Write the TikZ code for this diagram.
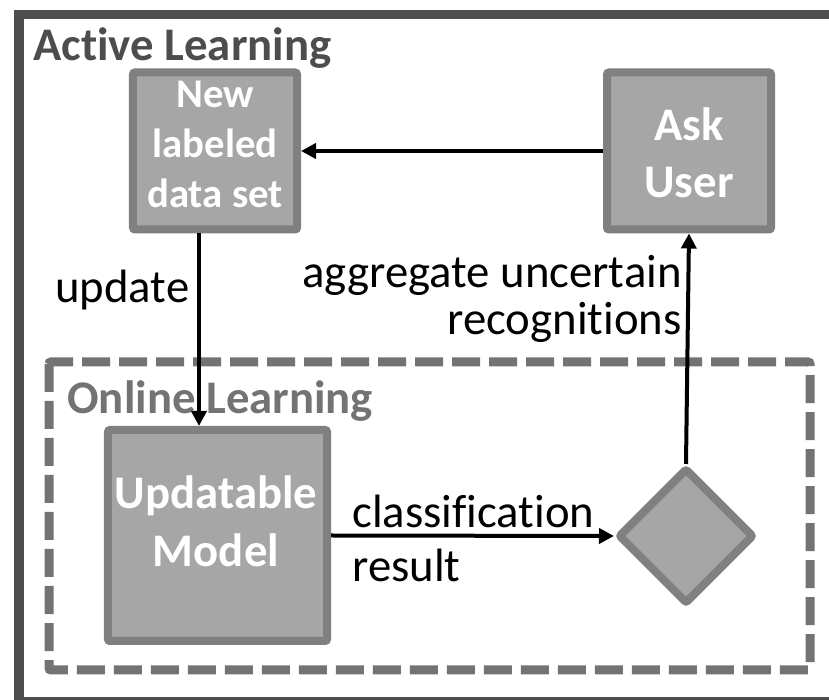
\documentclass[tikz,border=0pt]{standalone}
\usepackage{fontspec}
\setmainfont{Carlito}[Ligatures={NoCommon}]
\usetikzlibrary{arrows.meta}
\usetikzlibrary{shapes.geometric}

\definecolor{framegray}{HTML}{4D4D4D}
\definecolor{dashgray}{HTML}{737373}
\definecolor{stageline}{HTML}{808080}
\definecolor{stagefill}{HTML}{A6A6A6}

\tikzset{
  stage/.style={draw=stageline, fill=stagefill, line width=1.6mm, rounded corners=0.4mm, inner sep=0pt},
  stagetext/.style={text=white, align=center, inner sep=0pt},
  flow/.style={line width=0.8mm, -{Triangle[length=3mm,width=3mm]}},
  flowtext/.style={inner sep=0pt},
}

\begin{document}
\begin{tikzpicture}[x=0.2mm,y=-0.2mm]
          \useasboundingbox (0,0) rectangle (829,700);
          % Active Learning frame
          \draw[framegray, line width=1.8mm] (19,14.5) rectangle (840,701.5);
          \node[anchor=base west, inner sep=0pt, text=framegray, font=\bfseries\fontsize{26.6}{32}\selectfont] (activetitle) at (33,61) {Active Learning};
          % Online Learning frame
          \draw[dashgray, line width=1.8mm, dash pattern=on 5.6mm off 1.8mm, rounded corners=0.4mm] (49,362) rectangle (810,670);
          \node[anchor=base west, inner sep=0pt, text=dashgray, font=\bfseries\fontsize{26.6}{32}\selectfont] (onlinetitle) at (67,414) {Online Learning};
          % New labeled data set
          \node[stage, minimum width=3.28cm, minimum height=3.14cm] (newset) at (215,151) {};
          \node[stagetext, font=\bfseries\fontsize{23.2}{28.3}\selectfont] (newsettext) at (215,144.5) {New\\labeled\\data set};
          % Ask User
          \node[stage, minimum width=3.28cm, minimum height=3.14cm] (ask) at (689,151) {};
          \node[stagetext, font=\bfseries\fontsize{26.6}{32.3}\selectfont] (asktext) at (689,152.5) {Ask\\User};
          % Updatable Model
          \node[stage, minimum width=4.38cm, minimum height=4.22cm] (model) at (217.5,535.5) {};
          \node[stagetext, font=\bfseries\fontsize{26.6}{32.9}\selectfont] (modeltext) at (216,521.5) {Updatable\\Model};
          % decision
          \node[stage, diamond, aspect=1, minimum size=2.72cm] (decide) at (686,536) {};
          % line between Ask User and data set
          \draw[flow] (ask.west) -- (newset.east);
          % line between data set and model
          \draw[flow] ([xshift=-0.32cm]newset.south) -- ([xshift=-0.32cm]newset.south |- model.north);
          \node[flowtext, anchor=base west, font=\fontsize{26.6}{32}\selectfont] (updatetext) at (55,303) {update};
          % line between model and decision
          \draw[flow] (model.east) -- (decide.west);
          \node[flowtext, anchor=base west, align=left, font=\fontsize{26.6}{31.2}\selectfont] (classtext) at (352,582) {classification\\result};
          % line between decision and Ask User
          \draw[flow] (decide.north) -- (ask.south);
          \node[flowtext, anchor=base east, align=right, font=\fontsize{26.6}{27.2}\selectfont] (aggrtext) at (682,335) {aggregate uncertain\\recognitions};
        \end{tikzpicture}
\end{document}
